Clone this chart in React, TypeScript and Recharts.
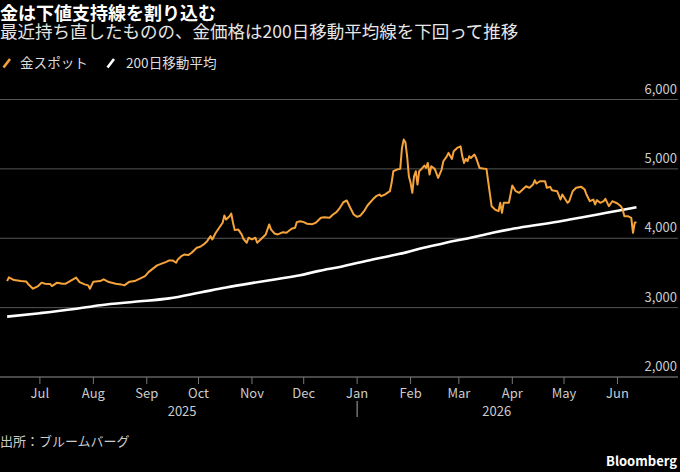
import React from 'react';
import { LineChart, Line, XAxis, YAxis, CartesianGrid } from 'recharts';

// x values: days counted from 2025-07-01
const spotDays = [
  -19, -18, -15, -11, -8, -7, -4, -1, 1, 3, 6, 7, 10, 13, 15, 17, 21, 23, 26, 28, 29, 31, 35, 37, 40, 44, 47, 49, 52, 55, 58,
  61, 63, 65, 68, 71, 73, 75, 77, 79, 80, 82, 84, 86, 88, 91, 93, 95, 97, 99, 100, 102, 104, 106, 107, 108, 110, 111, 112,
  113, 115, 117, 118, 120, 121, 123, 125, 126, 128, 131, 133, 134, 136, 138, 141, 143, 146, 148, 149, 151, 153, 155, 158,
  160, 163, 165, 168, 170, 172, 174, 176, 178, 180, 182, 184, 186, 188, 190, 191, 193, 195, 197, 198, 200, 203, 204, 205,
  207, 209, 210, 211, 212, 213, 214, 215, 216, 217, 218, 219, 220, 221, 223, 224, 225, 226, 227, 229, 231, 233, 234, 236,
  237, 239, 240, 242, 244, 245, 246, 247, 248, 249, 250, 252, 253, 255, 257, 259, 261, 262, 264, 266, 267, 268, 269, 272,
  274, 276, 278, 280, 282, 284, 286, 287, 288, 290, 293, 294, 296, 297, 300, 302, 303, 306, 307, 309, 311, 314, 316, 317,
  319, 321, 322, 323, 325, 327, 328, 330, 332, 335, 337, 338, 339, 341, 343, 344, 345, 346,
];
const spotValues = [
  3383, 3436, 3397, 3383, 3378, 3345, 3273, 3311, 3360, 3345, 3340, 3311, 3360, 3345, 3345, 3374, 3432, 3368, 3335, 3321,
  3273, 3374, 3383, 3408, 3368, 3345, 3335, 3321, 3374, 3383, 3417, 3455, 3512, 3551, 3609, 3637, 3656, 3681, 3681, 3647,
  3695, 3742, 3767, 3757, 3791, 3863, 3878, 3911, 3958, 4030, 3983, 4079, 4151, 4223, 4328, 4270, 4318, 4357, 4223, 4117,
  4127, 4055, 3993, 3935, 4007, 3983, 4007, 3935, 3983, 4055, 4199, 4127, 4069, 4055, 4088, 4079, 4137, 4151, 4232, 4246,
  4232, 4209, 4203, 4223, 4295, 4304, 4295, 4342, 4376, 4439, 4519, 4544, 4439, 4342, 4309, 4328, 4390, 4472, 4501, 4558,
  4606, 4630, 4606, 4630, 4678, 4799, 4966, 4990, 5000, 5302, 5422, 5383, 5181, 4894, 4799, 4655, 4894, 4966, 4774, 4966,
  4990, 5048, 5014, 5086, 4918, 5038, 5000, 4870, 4990, 5110, 5181, 5230, 5144, 5253, 5302, 5325, 5181, 5086, 5144, 5110,
  5181, 5158, 5206, 5158, 5014, 5004, 5000, 4640, 4462, 4414, 4390, 4511, 4367, 4511, 4511, 4760, 4678, 4655, 4702, 4750,
  4727, 4774, 4836, 4789, 4822, 4822, 4727, 4741, 4692, 4678, 4558, 4630, 4511, 4534, 4678, 4727, 4741, 4702, 4630, 4534,
  4558, 4486, 4549, 4511, 4534, 4568, 4462, 4534, 4501, 4462, 4414, 4318, 4318, 4295, 4079, 4223, 4232,
];

const maDays = [-19, 0, 20, 35, 55, 75, 93, 108, 122, 137, 151, 162, 174, 193, 203, 213, 222, 232, 240, 248, 255, 264, 273, 288, 302, 314, 325, 336, 346];
const maValues = [2870, 2920, 2980, 3035, 3085, 3133, 3218, 3290, 3350, 3410, 3468, 3530, 3587, 3695, 3745, 3800, 3860, 3915, 3960, 3995, 4035, 4085, 4130, 4190, 4245, 4300, 4350, 4400, 4448];

const monthTicks = [0, 31, 62, 92, 123, 153, 184, 215, 243, 274, 304, 335];
const monthLabels = ['Jul', 'Aug', 'Sep', 'Oct', 'Nov', 'Dec', 'Jan', 'Feb', 'Mar', 'Apr', 'May', 'Jun'];
const yearTicks = [82.5, 184, 265];
const yearLabels = ['2025', '|', '2026'];
const yTicks = [2000, 3000, 4000, 5000, 6000];

const spotData = spotDays.map((d, i) => ({ day: d, value: spotValues[i] }));
const maData = maDays.map((d, i) => ({ day: d, value: maValues[i] }));

const FONT = "'Noto Sans CJK JP', 'Noto Sans', sans-serif";
const ORANGE = '#F5A33A';

const MonthTick = (props: any) => {
  const { x, y, payload } = props;
  const idx = monthTicks.indexOf(payload.value);
  return (
    <text x={x} y={y + 14} textAnchor="middle" fill="#cccccc" fontSize={13} fontFamily={FONT}>
      {monthLabels[idx]}
    </text>
  );
};

const YearTick = (props: any) => {
  const { x, y, payload } = props;
  const idx = yearTicks.indexOf(payload.value);
  const label = yearLabels[idx];
  if (label === '|') {
    return <line x1={x} x2={x} y1={y + 2} y2={y + 18} stroke="#aaaaaa" strokeWidth={1} />;
  }
  return (
    <text x={x} y={y + 17} textAnchor="middle" fill="#cccccc" fontSize={13} fontFamily={FONT}>
      {label}
    </text>
  );
};

const YTick = (props: any) => {
  const { x, y, payload } = props;
  return (
    <text x={x - 1} y={y - 6} textAnchor="end" fill="#cccccc" fontSize={13} fontFamily={FONT}>
      {Number(payload.value).toLocaleString('en-US')}
    </text>
  );
};

const Slash = ({ color, left }: { color: string; left: number }) => (
  <svg style={{ position: 'absolute', left, top: 56, overflow: 'visible' }} width={10} height={14}>
    <line x1={1.5} y1={11.5} x2={8} y2={3} stroke={color} strokeWidth={2.6} />
  </svg>
);

export default function App() {
  return (
    <div
      style={{
        position: 'fixed',
        left: 0,
        top: 0,
        width: 680,
        height: 472,
        background: '#000',
        fontFamily: FONT,
        overflow: 'hidden',
      }}
    >
      <LineChart width={680} height={472} margin={{ top: 99.5, right: 0, bottom: 0, left: 0 }}>
        <CartesianGrid vertical={false} stroke="#555555" strokeWidth={1} />
        <XAxis
          dataKey="day"
          type="number"
          domain={[-23.14, 370.1]}
          allowDataOverflow
          ticks={monthTicks}
          interval={0}
          height={22}
          tickSize={7}
          tickMargin={0}
          axisLine={{ stroke: '#666666' }}
          tickLine={{ stroke: '#777777' }}
          tick={<MonthTick />}
        />
        <XAxis
          xAxisId="year"
          dataKey="day"
          type="number"
          domain={[-23.14, 370.1]}
          allowDataOverflow
          ticks={yearTicks}
          interval={0}
          height={73}
          tickSize={0}
          tickMargin={0}
          axisLine={false}
          tickLine={false}
          tick={<YearTick />}
        />
        <YAxis
          orientation="right"
          type="number"
          domain={[2000, 6000]}
          ticks={yTicks}
          width={2}
          tickSize={0}
          tickMargin={0}
          axisLine={false}
          tickLine={false}
          tick={<YTick />}
          interval={0}
        />
        <Line
          data={maData}
          dataKey="value"
          type="monotone"
          stroke="#ffffff"
          strokeWidth={2.6}
          dot={false}
          activeDot={false}
          isAnimationActive={false}
        />
        <Line
          data={spotData}
          dataKey="value"
          type="linear"
          stroke={ORANGE}
          strokeWidth={2}
          strokeLinejoin="round"
          dot={false}
          activeDot={false}
          isAnimationActive={false}
        />
      </LineChart>

      <div style={{ position: 'absolute', left: 0, top: 2.5, fontSize: 18, lineHeight: '18px', fontWeight: 700, color: '#ffffff', whiteSpace: 'nowrap' }}>
        金は下値支持線を割り込む
      </div>
      <div style={{ position: 'absolute', left: 0, top: 22, fontSize: 17.5, lineHeight: '17.5px', color: '#e6e6e6', whiteSpace: 'nowrap' }}>
        最近持ち直したものの、金価格は200日移動平均線を下回って推移
      </div>

      <Slash color={ORANGE} left={1.5} />
      <div style={{ position: 'absolute', left: 20, top: 55.5, fontSize: 13.6, lineHeight: '13.6px', color: '#dddddd', whiteSpace: 'nowrap' }}>
        金スポット
      </div>
      <Slash color="#ffffff" left={106} />
      <div style={{ position: 'absolute', left: 126, top: 55.5, fontSize: 13.6, lineHeight: '13.6px', color: '#dddddd', whiteSpace: 'nowrap' }}>
        200日移動平均
      </div>

      <div style={{ position: 'absolute', left: 0, top: 434, fontSize: 13, lineHeight: '13px', color: '#cccccc', whiteSpace: 'nowrap' }}>
        出所：ブルームバーグ
      </div>
      <div style={{ position: 'absolute', right: 3, top: 454, fontSize: 13, lineHeight: '13px', fontWeight: 700, color: '#ffffff', whiteSpace: 'nowrap' }}>
        Bloomberg
      </div>
    </div>
  );
}
